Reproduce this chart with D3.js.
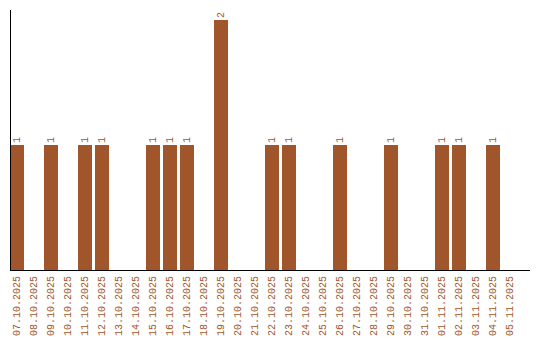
<!DOCTYPE html>
<html>
<head>
<meta charset="utf-8">
<script src="https://cdn.jsdelivr.net/npm/d3@7"></script>
<style>
  body { margin: 0; background: #fff; }
</style>
</head>
<body>
<div id="chart"></div>
<script>
const dates = [
  "07.10.2025", "08.10.2025", "09.10.2025", "10.10.2025", "11.10.2025",
  "12.10.2025", "13.10.2025", "14.10.2025", "15.10.2025", "16.10.2025",
  "17.10.2025", "18.10.2025", "19.10.2025", "20.10.2025", "21.10.2025",
  "22.10.2025", "23.10.2025", "24.10.2025", "25.10.2025", "26.10.2025",
  "27.10.2025", "28.10.2025", "29.10.2025", "30.10.2025", "31.10.2025",
  "01.11.2025", "02.11.2025", "03.11.2025", "04.11.2025", "05.11.2025"
];
const counts = [1, 0, 1, 0, 1, 1, 0, 0, 1, 1, 1, 0, 2, 0, 0, 1, 1, 0, 0, 1, 0, 0, 1, 0, 0, 1, 1, 0, 1, 0];

const W = 540, H = 340;
const left = 10, base = 270;
const brown = "#a0562a";
const font = "Liberation Mono, Courier New, monospace";

const svg = d3.select("#chart").append("svg")
  .attr("width", W)
  .attr("height", H);

const x = d3.scaleBand()
  .domain(dates)
  .range([left, left + 17 * 30 - 3])
  .paddingInner(3 / 17)
  .paddingOuter(0);

const y = d3.scaleLinear()
  .domain([0, d3.max(counts)])
  .range([base, 20]);

const data = dates.map((d, i) => ({ date: d, value: counts[i] }));

// bars
svg.selectAll(".bar")
  .data(data.filter((d) => d.value > 0))
  .enter()
  .append("rect")
  .attr("class", "bar")
  .attr("x", (d) => x(d.date))
  .attr("y", (d) => y(d.value))
  .attr("width", x.bandwidth())
  .attr("height", (d) => y(0) - y(d.value))
  .attr("fill", brown);

// value labels
svg.selectAll(".val")
  .data(data.filter((d) => d.value > 0))
  .enter()
  .append("text")
  .attr("class", "val")
  .attr("transform", (d) => `translate(${x(d.date) + x.bandwidth() / 2 + 3},${y(d.value) - 2}) rotate(-90)`)
  .attr("font-family", font)
  .attr("font-size", 10)
  .attr("fill", brown)
  .text((d) => d.value);

// axes lines
svg.append("line")
  .attr("x1", left + 0.5).attr("x2", left + 0.5)
  .attr("y1", 10).attr("y2", base)
  .attr("stroke", "black");
svg.append("line")
  .attr("x1", left).attr("x2", 530)
  .attr("y1", base + 0.5).attr("y2", base + 0.5)
  .attr("stroke", "black");

// date labels
svg.selectAll(".lbl")
  .data(dates)
  .enter()
  .append("text")
  .attr("class", "lbl")
  .attr("transform", (d) => `translate(${x(d) + x.bandwidth() / 2 + 3},${base + 6}) rotate(-90)`)
  .attr("text-anchor", "end")
  .attr("font-family", font)
  .attr("font-size", 10)
  .attr("fill", brown)
  .text((d) => d);
</script>
</body>
</html>
